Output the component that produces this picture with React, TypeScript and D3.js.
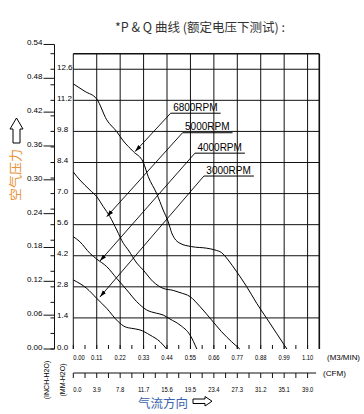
import React from 'react'
import * as d3 from 'd3'

const TITLE = '*P & Q 曲线 (额定电压下测试) :'

// flow in M3/MIN, pressure in MM-H2O
const flow6800 = [0, 0.055, 0.11, 0.157, 0.204, 0.235, 0.282, 0.328, 0.352, 0.391, 0.422, 0.446, 0.462, 0.501, 0.556, 0.626, 0.665, 0.696, 0.727, 0.767, 0.814, 0.861, 0.908, 0.954, 1.003]
const pres6800 = [11.94, 11.6, 11.26, 10.32, 9.79, 9.37, 8.89, 8.42, 7.76, 7.01, 6.26, 5.72, 5.23, 4.76, 4.61, 4.54, 4.46, 4.34, 4.01, 3.48, 2.81, 2.06, 1.38, 0.71, 0]

const flow5000 = [0, 0.031, 0.078, 0.11, 0.141, 0.172, 0.204, 0.235, 0.258, 0.298, 0.328, 0.375, 0.422, 0.469, 0.501, 0.548, 0.595, 0.649, 0.696, 0.743, 0.782]
const pres5000 = [7.97, 7.61, 7.16, 6.86, 6.41, 5.96, 5.36, 4.76, 4.46, 3.87, 3.56, 3.03, 2.73, 2.64, 2.54, 2.36, 1.91, 1.31, 0.78, 0.33, 0]

const flow4000 = [0, 0.031, 0.078, 0.11, 0.157, 0.204, 0.251, 0.298, 0.344, 0.391, 0.422, 0.454, 0.501, 0.548, 0.58]
const pres4000 = [5.06, 4.83, 4.31, 4.05, 3.71, 3.18, 2.66, 2.13, 1.76, 1.61, 1.53, 1.35, 1.08, 0.63, 0]

const flow3000 = [0, 0.063, 0.11, 0.157, 0.211, 0.243, 0.274, 0.313, 0.36, 0.407, 0.438]
const pres3000 = [3.11, 2.73, 2.28, 1.83, 1.23, 1.0, 0.93, 0.86, 0.63, 0.33, 0]

const rpmNames = ['6800RPM', '5000RPM', '4000RPM', '3000RPM']
// label underline start and arrow tip, in data units (flow, mm)
const labelStart = [[0.457, 10.62], [0.513, 9.74], [0.571, 8.82], [0.613, 7.79]]
const arrowTip = [[0.29, 8.89], [0.157, 5.96], [0.125, 3.96], [0.125, 2.34]]

const flowTicks = [0, 0.11, 0.22, 0.33, 0.44, 0.55, 0.66, 0.77, 0.88, 0.99, 1.1]
const cfmLabels = ['0.0', '3.9', '7.8', '11.7', '15.6', '19.5', '23.4', '27.3', '31.2', '35.1', '39.0']
const mmTicks = [0, 1.4, 2.8, 4.2, 5.6, 7.0, 8.4, 9.8, 11.2, 12.6]
const inchTicks = [0, 0.06, 0.12, 0.18, 0.24, 0.30, 0.36, 0.42, 0.48, 0.54]

// narrow tick text: the drawing uses a condensed face
const narrow = (s: string) => {
  const dots = s.split('.').length - 1
  return (s.length - dots) * 3.2 + dots * 1.8
}

export default function App() {
  const x = d3.scaleLinear().domain([0, 1.155]).range([73.3, 319.3])
  const y = d3.scaleLinear().domain([0, 13.3]).range([349, 53.7])

  const curves = [
    [flow6800, pres6800],
    [flow5000, pres5000],
    [flow4000, pres4000],
    [flow3000, pres3000]
  ]

  const line = d3.line<number[]>()
    .x(d => x(d[0]))
    .y(d => y(d[1]))
    .curve(d3.curveMonotoneX)

  const minorFlow = d3.range(0, 21).map(i => i * 0.055)
  const minorMm = d3.range(0, 20).map(i => i * 0.7)
  const font = 'Liberation Sans, Arial, sans-serif'
  const cjk = '"Noto Sans CJK SC", sans-serif'
  const axisX = 54.5
  const yTopInch = y(0.54 * 25.4)
  const cfmY = 373

  return (
    <svg width={364} height={414} style={{ position: 'absolute', left: 0, top: 0, background: '#fff' }}
      fontFamily={font}>
      <defs>
        <marker id="arr" viewBox="0 0 10 10" refX="10" refY="5" markerWidth="7" markerHeight="7" orient="auto" markerUnits="userSpaceOnUse">
          <path d="M0,2 L10,5 L0,8 z" fill="#000" />
        </marker>
      </defs>

      <text x={200} y={32} textAnchor="middle" fontSize={12.5} fill="#333" fontFamily={cjk}>{TITLE}</text>

      {/* grid */}
      <g stroke="#111" strokeWidth={1}>
        {mmTicks.filter(v => v > 0).map(v => (
          <line key={'h' + v} x1={x(0)} x2={x(1.155)} y1={y(v)} y2={y(v)} />
        ))}
        {flowTicks.map(v => (
          <line key={'v' + v} x1={x(v)} x2={x(v)} y1={y(13.3)} y2={y(0)} />
        ))}
        {minorFlow.map(v => (
          <line key={'m' + v} x1={x(v)} x2={x(v)} y1={y(0)} y2={y(0) - 4} />
        ))}
        <line x1={x(0)} x2={x(1.155)} y1={y(13.3)} y2={y(13.3)} strokeWidth={1.6} />
        <line x1={x(1.155)} x2={x(1.155)} y1={y(13.3)} y2={y(0)} strokeWidth={1.6} />
      </g>

      {/* outer pressure axis */}
      <g stroke="#111" strokeWidth={1}>
        <line x1={axisX} x2={axisX} y1={yTopInch} y2={y(0)} />
        {inchTicks.map(v => (
          <line key={'it' + v} x1={axisX - 11} x2={axisX} y1={y(v * 25.4)} y2={y(v * 25.4)} />
        ))}
        {minorMm.map(v => (
          <line key={'mt' + v} x1={axisX - 4} x2={axisX} y1={y(v)} y2={y(v)} />
        ))}
      </g>
      <g fontSize={8} fill="#000">
        {inchTicks.map(v => (
          <text key={'il' + v} x={axisX - 12} y={y(v * 25.4) + 1} textAnchor="end">{v.toFixed(2)}</text>
        ))}
        {mmTicks.map(v => (
          <text key={'ml' + v} x={57} y={y(v) + 0.5}>{v.toFixed(1)}</text>
        ))}
      </g>
      <g fontSize={7.5} fill="#000">
        {flowTicks.map((v, i) => {
          const s = v.toFixed(2)
          return (
            <text key={'fl' + v} x={x(v)} y={360} textAnchor={i === 0 ? 'start' : 'middle'}
              textLength={narrow(s)} lengthAdjust="spacingAndGlyphs">{s}</text>
          )
        })}
        <text x={327} y={360} textLength={33} lengthAdjust="spacingAndGlyphs">(M3/MIN)</text>
        {cfmLabels.map((s, i) => (
          <text key={'cl' + s} x={x(flowTicks[i])} y={392} textAnchor={i === 0 ? 'start' : 'middle'}
            textLength={narrow(s)} lengthAdjust="spacingAndGlyphs">{s}</text>
        ))}
        <text x={323} y={376} textLength={23} lengthAdjust="spacingAndGlyphs">(CFM)</text>
      </g>

      {/* CFM axis */}
      <g stroke="#111" strokeWidth={1}>
        <line x1={x(0)} x2={x(1.14)} y1={cfmY} y2={cfmY} />
        {minorFlow.map(v => (
          <line key={'c' + v} x1={x(v)} x2={x(v)} y1={cfmY} y2={cfmY + 5} />
        ))}
      </g>

      <text transform="translate(49,380) rotate(-90)" textAnchor="middle" fontSize={7} fill="#000">(INCH-H2O)</text>
      <text transform="translate(65,380) rotate(-90)" textAnchor="middle" fontSize={7} fill="#000">(MM-H2O)</text>

      {/* curves */}
      <g fill="none" stroke="#000" strokeWidth={1}>
        {curves.map((c, i) => (
          <path key={'cv' + i} d={line(c[0].map((q, j) => [q, c[1][j]])) || ''} />
        ))}
      </g>

      {/* rpm labels with leaders */}
      {rpmNames.map((name, i) => {
        const sx = x(labelStart[i][0])
        const sy = y(labelStart[i][1])
        return (
          <g key={name}>
            <line x1={sx} y1={sy} x2={sx + 50} y2={sy} stroke="#000" strokeWidth={1} />
            <line x1={sx} y1={sy} x2={x(arrowTip[i][0])} y2={y(arrowTip[i][1])} stroke="#000" strokeWidth={0.9} markerEnd="url(#arr)" />
            <text x={sx + 2.5} y={sy - 2.5} fontSize={10} fill="#000">{name}</text>
          </g>
        )
      })}

      {/* axis titles */}
      <path d="M16.5,118 L10,129 L13,129 L13,143 L20,143 L20,129 L23,129 Z" fill="#fff" stroke="#000" strokeWidth={1} />
      <text transform="translate(20,175) rotate(-90)" textAnchor="middle" fontSize={13} fill="#e8923a" fontFamily={cjk}>空气压力</text>
      <text x={138} y={408} fontSize={12.5} fill="#3a62b0" fontFamily={cjk}>气流方向</text>
      <path d="M193,399 L205,399 L205,396.5 L212,401.2 L205,406 L205,403.5 L193,403.5 Z" fill="#fff" stroke="#000" strokeWidth={1} />
    </svg>
  )
}
